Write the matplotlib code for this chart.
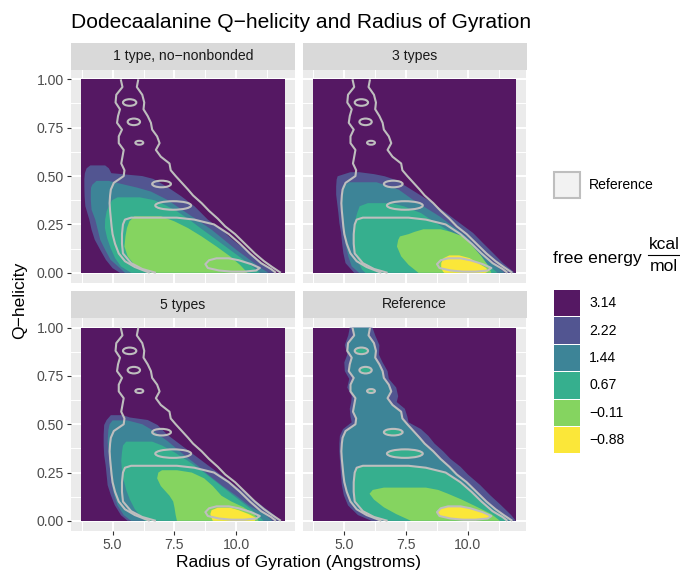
import numpy as np
import matplotlib
matplotlib.use("Agg")
import matplotlib.pyplot as plt
from matplotlib.patches import Ellipse, Rectangle
from matplotlib.lines import Line2D

plt.rcParams['font.family'] = ['Liberation Sans', 'DejaVu Sans']

# ---------------- data ----------------
TITLE = "Dodecaalanine Q\u2212helicity and Radius of Gyration"
X_LABEL = "Radius of Gyration (Angstroms)"
Y_LABEL = "Q\u2212helicity"
PANELS = ["1 type, no\u2212nonbonded", "3 types", "5 types", "Reference"]
LEVEL_LABELS = ["3.14", "2.22", "1.44", "0.67", "\u22120.11", "\u22120.88"]
LEVEL_COLORS = ["#551863", "#525591", "#3D8497", "#36AF8E", "#85D460", "#FBE739"]
RG_RANGE = [3.72, 11.96]
Q_RANGE = [0.0, 1.0]
X_TICKS = [5.0, 7.5, 10.0]
X_TICK_LABELS = ["5.0", "7.5", "10.0"]
Y_TICKS = [0.0, 0.25, 0.5, 0.75, 1.0]
Y_TICK_LABELS = ["0.00", "0.25", "0.50", "0.75", "1.00"]

# regions below each free-energy level: rows of (Q, Rg_low, Rg_high), top to bottom
P1_L1 = [(0.555, 4.10, 4.70), (0.54, 3.95, 4.85), (0.515, 3.88, 4.95), (0.50, 3.87, 6.20),
         (0.485, 3.86, 6.65), (0.447, 3.86, 7.17), (0.396, 3.87, 7.77), (0.344, 3.90, 8.31),
         (0.275, 4.06, 8.85), (0.223, 4.15, 9.40), (0.171, 4.28, 9.85), (0.119, 4.50, 10.38),
         (0.067, 4.73, 10.90), (0.024, 5.00, 11.35), (0.0, 5.30, 11.60)]
P1_L2 = [(0.475, 4.35, 4.85), (0.455, 4.18, 5.50), (0.44, 4.13, 6.00), (0.42, 4.12, 6.55),
         (0.378, 4.12, 7.20), (0.326, 4.15, 7.80), (0.275, 4.30, 8.40), (0.223, 4.40, 9.00),
         (0.171, 4.50, 9.50), (0.119, 4.70, 10.00), (0.067, 4.92, 10.55), (0.024, 5.30, 11.00),
         (0.0, 5.50, 11.30)]
P1_L3 = [(0.39, 5.20, 6.10), (0.375, 4.98, 6.70), (0.352, 4.88, 7.10), (0.318, 4.76, 7.60),
         (0.275, 4.70, 8.10), (0.231, 4.69, 8.55), (0.18, 4.78, 9.10), (0.128, 4.92, 9.65),
         (0.076, 5.10, 10.20), (0.033, 5.34, 10.65), (0.0, 5.75, 10.95)]
P1_L4 = [(0.292, 5.88, 6.96), (0.266, 5.68, 7.50), (0.231, 5.58, 8.05), (0.188, 5.52, 8.60),
         (0.136, 5.48, 9.20), (0.085, 5.61, 9.75), (0.041, 5.88, 10.15), (0.007, 6.42, 10.40),
         (0.0, 6.60, 10.45)]

P2_L1 = [(0.52, 5.25, 5.60), (0.51, 5.00, 6.20), (0.499, 4.73, 6.63), (0.482, 4.69, 7.03),
         (0.447, 4.67, 7.50), (0.404, 4.67, 8.04), (0.361, 4.71, 8.58), (0.309, 4.76, 9.13),
         (0.257, 4.80, 9.67), (0.206, 4.87, 10.21), (0.154, 4.91, 10.61), (0.102, 4.96, 11.02),
         (0.050, 5.05, 11.42), (0.0, 5.40, 11.90)]
P2_L2 = [(0.468, 5.20, 6.30), (0.45, 4.93, 6.75), (0.43, 4.91, 7.20), (0.378, 4.88, 7.77),
         (0.335, 4.88, 8.31), (0.292, 4.92, 8.85), (0.24, 4.96, 9.40), (0.188, 5.00, 9.94),
         (0.136, 5.07, 10.34), (0.085, 5.16, 10.75), (0.033, 5.30, 11.15), (0.0, 5.60, 11.49)]
P2_L3 = [(0.36, 5.95, 6.90), (0.344, 5.62, 7.40), (0.309, 5.52, 8.10), (0.266, 5.43, 8.60),
         (0.223, 5.37, 9.15), (0.171, 5.34, 9.70), (0.119, 5.41, 10.20), (0.067, 5.52, 10.60),
         (0.016, 5.72, 11.05), (0.0, 5.85, 11.20)]
P2_L4 = [(0.225, 8.20, 8.90), (0.212, 7.85, 9.30), (0.200, 7.60, 9.55), (0.188, 7.25, 9.80),
         (0.17, 7.18, 9.95), (0.136, 7.13, 10.20), (0.085, 7.30, 10.55), (0.041, 7.60, 10.80),
         (0.0, 8.00, 10.95)]
P2_L5 = [(0.09, 9.25, 9.65), (0.076, 9.02, 10.07), (0.050, 8.92, 10.41), (0.024, 8.92, 10.75),
         (0.005, 9.00, 10.80), (0.0, 9.05, 10.70)]

P3_L1 = [(0.547, 4.93, 5.41), (0.535, 4.85, 5.70), (0.522, 4.76, 6.42), (0.496, 4.66, 6.82),
         (0.444, 4.64, 7.23), (0.392, 4.64, 7.77), (0.340, 4.66, 8.31), (0.288, 4.72, 8.85),
         (0.237, 4.76, 9.39), (0.185, 4.80, 9.93), (0.133, 4.93, 10.47), (0.081, 5.09, 11.01),
         (0.029, 5.34, 11.55), (0.0, 5.61, 11.76)]
P3_L2 = [(0.52, 5.00, 5.60), (0.50, 4.88, 6.20), (0.47, 4.83, 6.60), (0.41, 4.80, 7.25),
         (0.34, 4.85, 7.90), (0.29, 4.88, 8.40), (0.23, 4.93, 8.95), (0.18, 4.98, 9.45),
         (0.13, 5.07, 10.00), (0.08, 5.20, 10.50), (0.03, 5.45, 11.20), (0.0, 5.75, 11.45)]
P3_L3 = [(0.41, 5.55, 6.60), (0.39, 5.42, 7.00), (0.355, 5.38, 7.50), (0.31, 5.35, 8.05),
         (0.26, 5.38, 8.60), (0.21, 5.45, 9.10), (0.16, 5.55, 9.60), (0.11, 5.70, 10.10),
         (0.06, 5.90, 10.60), (0.02, 6.15, 10.95), (0.0, 6.30, 11.10)]
P3_L4 = [(0.262, 7.00, 7.60), (0.25, 6.85, 8.20), (0.22, 6.80, 8.70), (0.18, 6.95, 9.05),
         (0.13, 7.30, 9.40), (0.10, 7.45, 9.80), (0.07, 7.50, 10.30), (0.03, 7.55, 10.75),
         (0.0, 7.60, 10.90)]
P3_L5 = [(0.068, 9.25, 9.75), (0.055, 9.00, 10.10), (0.035, 8.95, 10.50), (0.015, 9.00, 10.80),
         (0.0, 9.05, 10.75)]

REF_L1 = [(1.0, 5.22, 6.14), (0.96, 5.16, 6.25), (0.91, 5.02, 6.42), (0.86, 5.12, 6.40),
          (0.82, 5.00, 6.55), (0.775, 5.02, 6.75), (0.735, 5.20, 6.80), (0.69, 5.12, 7.10),
          (0.645, 5.30, 7.18), (0.615, 5.28, 7.12), (0.58, 5.22, 7.45), (0.54, 5.25, 7.55),
          (0.51, 5.30, 7.60), (0.475, 4.95, 8.10), (0.44, 4.82, 8.40), (0.40, 4.80, 8.65),
          (0.36, 4.80, 9.00), (0.32, 4.82, 9.30), (0.28, 4.84, 9.70), (0.24, 4.86, 10.00),
          (0.185, 4.90, 10.50), (0.133, 4.98, 10.90), (0.08, 5.15, 11.35), (0.03, 5.55, 11.75),
          (0.0, 6.10, 11.94)]
REF_L2 = [(1.0, 5.33, 6.04), (0.96, 5.40, 5.98), (0.92, 5.15, 6.20), (0.88, 5.12, 6.28),
          (0.845, 5.30, 6.25), (0.81, 5.22, 6.42), (0.775, 5.18, 6.55), (0.74, 5.38, 6.60),
          (0.705, 5.25, 6.80), (0.67, 5.25, 6.90), (0.635, 5.45, 6.75), (0.60, 5.40, 6.95),
          (0.565, 5.35, 7.30), (0.53, 5.48, 7.35), (0.50, 5.45, 7.55), (0.465, 5.05, 7.80),
          (0.43, 4.93, 8.05), (0.40, 4.90, 8.25), (0.36, 4.88, 8.60), (0.32, 4.90, 8.90),
          (0.28, 4.93, 9.25), (0.24, 4.96, 9.55), (0.20, 5.00, 9.95), (0.15, 5.10, 10.35),
          (0.10, 5.25, 10.75), (0.06, 5.50, 11.12), (0.03, 5.90, 11.45), (0.0, 6.50, 11.80)]
REF_L3 = [(0.285, 5.75, 7.60), (0.275, 5.50, 8.30), (0.25, 5.42, 9.10), (0.20, 5.38, 9.70),
          (0.15, 5.38, 10.15), (0.10, 5.42, 10.55), (0.05, 5.75, 11.00), (0.02, 6.20, 11.40),
          (0.0, 6.75, 11.60)]
# small closed basins at the 0.67 level: (Rg centre, Q centre, width, height)
REF_L3_ISLANDS = [(5.69, 0.880, 0.54, 0.034), (5.86, 0.780, 0.50, 0.034),
                  (6.08, 0.672, 0.32, 0.020), (6.98, 0.459, 0.76, 0.034),
                  (7.45, 0.348, 1.45, 0.044)]
REF_L4 = [(0.172, 6.60, 8.30), (0.16, 6.15, 8.80), (0.14, 6.02, 9.20), (0.11, 6.20, 9.75),
          (0.07, 6.60, 10.40), (0.035, 7.10, 10.95), (0.0, 7.70, 11.30)]
REF_L5 = [(0.075, 9.20, 9.70), (0.065, 8.90, 10.10), (0.045, 8.75, 10.60), (0.025, 8.85, 10.95),
          (0.012, 9.30, 10.80), (0.006, 9.80, 10.30)]

PANEL_LEVELS = [
    [P1_L1, P1_L2, P1_L3, P1_L4, None],
    [P2_L1, P2_L2, P2_L3, P2_L4, P2_L5],
    [P3_L1, P3_L2, P3_L3, P3_L4, P3_L5],
    [REF_L1, REF_L2, REF_L3, REF_L4, REF_L5],
]
REF_LINE_REGIONS = [REF_L2, REF_L3, REF_L5]

# ---------------- layout helpers ----------------
W, H = 680, 571
fig = plt.figure(figsize=(W / 100, H / 100), dpi=100)
fig.patch.set_facecolor("white")

FS_SMALL = 10.1
FS_MID = 12.6
FS_TITLE = 15.1


def fx(x):
    return x / W


def fy(y):
    return 1 - y / H


COLS = [(70.7, 295.0), (302.5, 526.5)]
ROWS = [(69.6, 282.5), (318.0, 530.5)]
STRIP_H = 27.0

LINE_GREY = "#BEBEBE"


def fill_region(ax, rows, color, z):
    a = np.array(rows)
    q, lo, hi = a[:, 0], a[:, 1], a[:, 2]
    ax.fill(np.r_[lo, hi[::-1]], np.r_[q, q[::-1]], color=color, lw=0, zorder=z)


def line_region(ax, rows):
    a = np.array(rows)
    q, lo, hi = a[:, 0], a[:, 1], a[:, 2]
    kw = dict(color=LINE_GREY, lw=1.5, zorder=10, solid_joinstyle="round", solid_capstyle="butt")
    if q[0] >= 0.999:
        ax.plot(lo, q, **kw)
        ax.plot(hi, q, **kw)
        return
    xs = np.r_[lo[::-1], hi]
    ys = np.r_[q[::-1], q]
    if q[-1] > 0.001:
        xs = np.r_[xs, xs[0]]
        ys = np.r_[ys, ys[0]]
    ax.plot(xs, ys, **kw)


xpad = 0.05 * (RG_RANGE[1] - RG_RANGE[0])
ypad = 0.05 * (Q_RANGE[1] - Q_RANGE[0])

for i, name in enumerate(PANELS):
    r, c = divmod(i, 2)
    x0, x1 = COLS[c]
    y0, y1 = ROWS[r]
    ax = fig.add_axes([fx(x0), fy(y1), (x1 - x0) / W, (y1 - y0) / H])
    ax.set_facecolor("#EBEBEB")
    ax.set_xlim(RG_RANGE[0] - xpad, RG_RANGE[1] + xpad)
    ax.set_ylim(Q_RANGE[0] - ypad, Q_RANGE[1] + ypad)
    for s in ax.spines.values():
        s.set_visible(False)
    ax.set_xticks(X_TICKS)
    ax.set_yticks(Y_TICKS)
    ax.set_xticks([3.75, 6.25, 8.75, 11.25], minor=True)
    ax.set_yticks([0.125, 0.375, 0.625, 0.875], minor=True)
    ax.grid(which="major", color="white", lw=1.4)
    ax.grid(which="minor", color="white", lw=0.7)
    ax.set_axisbelow(True)
    ax.tick_params(which="minor", length=0)
    ax.tick_params(which="major", length=2.9, width=0.8, color="#333333",
                   labelsize=FS_SMALL, labelcolor="#4D4D4D", pad=2.2)
    if r == 1:
        ax.set_xticklabels(X_TICK_LABELS)
    else:
        ax.tick_params(axis="x", bottom=False, labelbottom=False)
    if c == 0:
        ax.set_yticklabels(Y_TICK_LABELS)
    else:
        ax.tick_params(axis="y", left=False, labelleft=False)

    # highest free energy bin covers the whole sampled range
    ax.fill_between(RG_RANGE, Q_RANGE[0], Q_RANGE[1], color=LEVEL_COLORS[0], lw=0, zorder=1)
    for k, rows in enumerate(PANEL_LEVELS[i]):
        if rows is None:
            continue
        fill_region(ax, rows, LEVEL_COLORS[k + 1], 2 + k)
        if k == 2 and i == 3:
            for (xc, qc, w, h) in REF_L3_ISLANDS:
                ax.add_patch(Ellipse((xc, qc), w, h, facecolor=LEVEL_COLORS[3], lw=0, zorder=2 + k))

    # reference contour lines on every panel
    for rows in REF_LINE_REGIONS:
        line_region(ax, rows)
    for (xc, qc, w, h) in REF_L3_ISLANDS:
        ax.add_patch(Ellipse((xc, qc), w, h, facecolor="none", edgecolor=LINE_GREY, lw=1.5, zorder=10))

    # strip
    fig.add_artist(Rectangle((fx(x0), fy(y0)), (x1 - x0) / W, STRIP_H / H,
                             transform=fig.transFigure, facecolor="#D9D9D9", edgecolor="none"))
    fig.text(fx((x0 + x1) / 2), fy(y0 - STRIP_H / 2), name, ha="center", va="center",
             fontsize=FS_SMALL, color="#1A1A1A")

# titles
fig.text(fx(70.7), fy(28), TITLE, ha="left", va="baseline", fontsize=FS_TITLE, color="black")
fig.text(fx((70.7 + 526.5) / 2), fy(567), X_LABEL, ha="center", va="baseline", fontsize=FS_MID, color="black")
fig.text(fx(20), fy(300), Y_LABEL, ha="center", va="center", rotation=90, fontsize=FS_MID, color="black")

# legend: reference lines
fig.add_artist(Rectangle((fx(553.5), fy(198.5)), 26.5 / W, 26.5 / H, transform=fig.transFigure,
                         facecolor="#F2F2F2", edgecolor=LINE_GREY, lw=1.5))
fig.text(fx(589), fy(185), "Reference", ha="left", va="center", fontsize=FS_SMALL, color="black")

# legend: free energy
fig.text(fx(553), fy(258.5), "free energy", ha="left", va="center", fontsize=FS_MID, color="black")
fig.text(fx(664), fy(244.5), "kcal", ha="center", va="center", fontsize=FS_MID, color="black")
fig.text(fx(664), fy(266.5), "mol", ha="center", va="center", fontsize=FS_MID, color="black")
fig.add_artist(Line2D([fx(647.5), fx(679)], [fy(254.5), fy(254.5)], transform=fig.transFigure,
                      color="black", lw=0.8))
KEY_TOP = 290.0
KEY_STEP = 27.4
for j, (lab, col) in enumerate(zip(LEVEL_LABELS, LEVEL_COLORS)):
    top = KEY_TOP + j * KEY_STEP
    fig.add_artist(Rectangle((fx(553.5), fy(top + 26.4)), 26.5 / W, 26.4 / H,
                             transform=fig.transFigure, facecolor=col, edgecolor="none"))
    fig.text(fx(589), fy(top + 13.2), lab, ha="left", va="center", fontsize=FS_SMALL, color="black")

fig.savefig("out.png", dpi=100)
